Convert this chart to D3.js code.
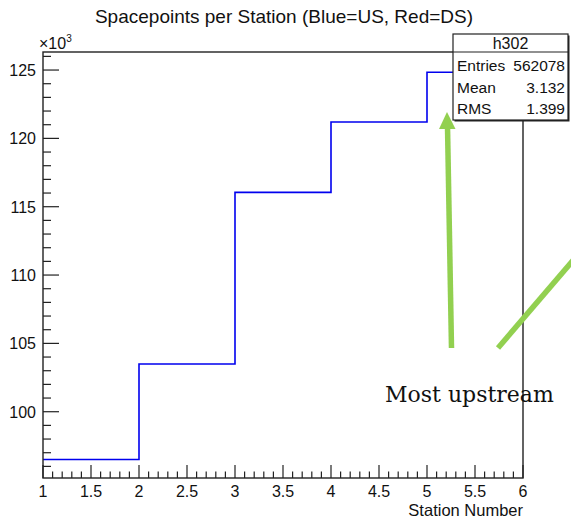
<!DOCTYPE html>
<html><head><meta charset="utf-8">
<script src="https://cdn.jsdelivr.net/npm/d3@7"></script>
<style>body{margin:0;background:#fff;} svg{display:block;}</style>
</head><body>
<script>
const binLowEdges = [1, 2, 3, 4, 5];
const binValues = [96.5, 103.49, 116.05, 121.2, 124.84]; // ×10^3
const xTickLabels = ["1","1.5","2","2.5","3","3.5","4","4.5","5","5.5","6"];
const yTickLabels = ["100","105","110","115","120","125"];
const statsLabels = ["Entries", "Mean", "RMS"];
const statsValues = ["562078", "3.132", "1.399"];

const W = 571, H = 519;
const L = 43, R = 523, T = 52, B = 478;
const FONT = "Liberation Sans, Arial, sans-serif";
const svg = d3.select("body").append("svg").attr("width", W).attr("height", H);

const x = d3.scaleLinear().domain([1, 6]).range([L, R]);
const y = d3.scaleLinear().domain([95.15, 126.32]).range([B, T]);

// title
svg.append("text").attr("x", 284).attr("y", 23).attr("text-anchor", "middle")
  .attr("font-family", FONT).attr("font-size", 19)
  .attr("fill", "#111").text("Spacepoints per Station (Blue=US, Red=DS)");

// histogram
const pts = binLowEdges.map((e, i) => [e, binValues[i]]);
pts.push([6, binValues[binValues.length - 1]]);
const line = d3.line().x(d => x(d[0])).y(d => y(d[1])).curve(d3.curveStepAfter);
svg.append("path").attr("d", line(pts)).attr("fill", "none")
  .attr("stroke", "#0000ee").attr("stroke-width", 1.6);

// frame
svg.append("rect").attr("x", L).attr("y", T).attr("width", R - L).attr("height", B - T)
  .attr("fill", "none").attr("stroke", "#222").attr("stroke-width", 1.4);

// x axis ticks
const xg = svg.append("g").attr("stroke", "#222").attr("stroke-width", 1.2);
d3.range(0, 51).forEach(i => {
  const v = 1 + i * 0.1;
  const major = i % 5 === 0;
  xg.append("line").attr("x1", x(v)).attr("x2", x(v)).attr("y1", B)
    .attr("y2", B - (major ? 13 : 6.5));
});
svg.append("g").selectAll("text").data(xTickLabels).join("text")
  .attr("x", d => x(+d)).attr("y", 497).attr("text-anchor", "middle")
  .attr("font-family", FONT).attr("font-size", 16)
  .attr("fill", "#111").text(d => d);
svg.append("text").attr("x", R).attr("y", 516).attr("text-anchor", "end")
  .attr("font-family", FONT).attr("font-size", 16.5)
  .attr("fill", "#111").text("Station Number");

// y axis ticks
const yg = svg.append("g").attr("stroke", "#222").attr("stroke-width", 1.2);
d3.range(96, 127).forEach(v => {
  const major = v % 5 === 0;
  yg.append("line").attr("x1", L).attr("x2", L + (major ? 16 : 8))
    .attr("y1", y(v)).attr("y2", y(v));
});
svg.append("g").selectAll("text").data(yTickLabels).join("text")
  .attr("x", 36).attr("y", d => y(+d) + 6).attr("text-anchor", "end")
  .attr("font-family", FONT).attr("font-size", 16)
  .attr("fill", "#111").text(d => d);
const ex = svg.append("text").attr("x", 39).attr("y", 49)
  .attr("font-family", FONT).attr("font-size", 16)
  .attr("fill", "#111");
ex.append("tspan").text("\u00d710");
ex.append("tspan").attr("dy", -7).attr("font-size", 10).text("3");

// stats box
const sb = { x0: 453, y0: 34, x1: 568, y1: 120, hdr: 52 };
svg.append("rect").attr("x", sb.x0 + 1.5).attr("y", sb.y0 + 1.5)
  .attr("width", sb.x1 - sb.x0).attr("height", sb.y1 - sb.y0).attr("fill", "#222");
svg.append("rect").attr("x", sb.x0).attr("y", sb.y0)
  .attr("width", sb.x1 - sb.x0).attr("height", sb.y1 - sb.y0)
  .attr("fill", "#fff").attr("stroke", "#222").attr("stroke-width", 1.2);
svg.append("line").attr("x1", sb.x0).attr("x2", sb.x1).attr("y1", sb.hdr).attr("y2", sb.hdr)
  .attr("stroke", "#222").attr("stroke-width", 1.2);
svg.append("text").attr("x", (sb.x0 + sb.x1) / 2).attr("y", 49).attr("text-anchor", "middle")
  .attr("font-family", FONT).attr("font-size", 16)
  .attr("fill", "#111").text("h302");
statsLabels.forEach((lab, i) => {
  const yy = 71 + i * 21.5;
  svg.append("text").attr("x", sb.x0 + 4).attr("y", yy)
    .attr("font-family", FONT).attr("font-size", 15.5)
    .attr("fill", "#111").text(lab);
  svg.append("text").attr("x", sb.x1 - 3).attr("y", yy).attr("text-anchor", "end")
    .attr("font-family", FONT).attr("font-size", 15.5)
    .attr("fill", "#111").text(statsValues[i]);
});

// annotation
const green = "#92d050";
svg.append("line").attr("x1", 451.5).attr("y1", 348).attr("x2", 447.5).attr("y2", 126)
  .attr("stroke", green).attr("stroke-width", 5.5);
svg.append("path").attr("d", "M447,112 L455.5,129 L439,129 Z").attr("fill", green);
svg.append("line").attr("x1", 498).attr("y1", 348).attr("x2", 575).attr("y2", 258)
  .attr("stroke", green).attr("stroke-width", 5.5);
svg.append("text").attr("x", 385).attr("y", 402)
  .attr("font-family", "DejaVu Serif, serif").attr("font-size", 22)
  .attr("fill", "#111").text("Most upstream");
</script>
</body></html>
